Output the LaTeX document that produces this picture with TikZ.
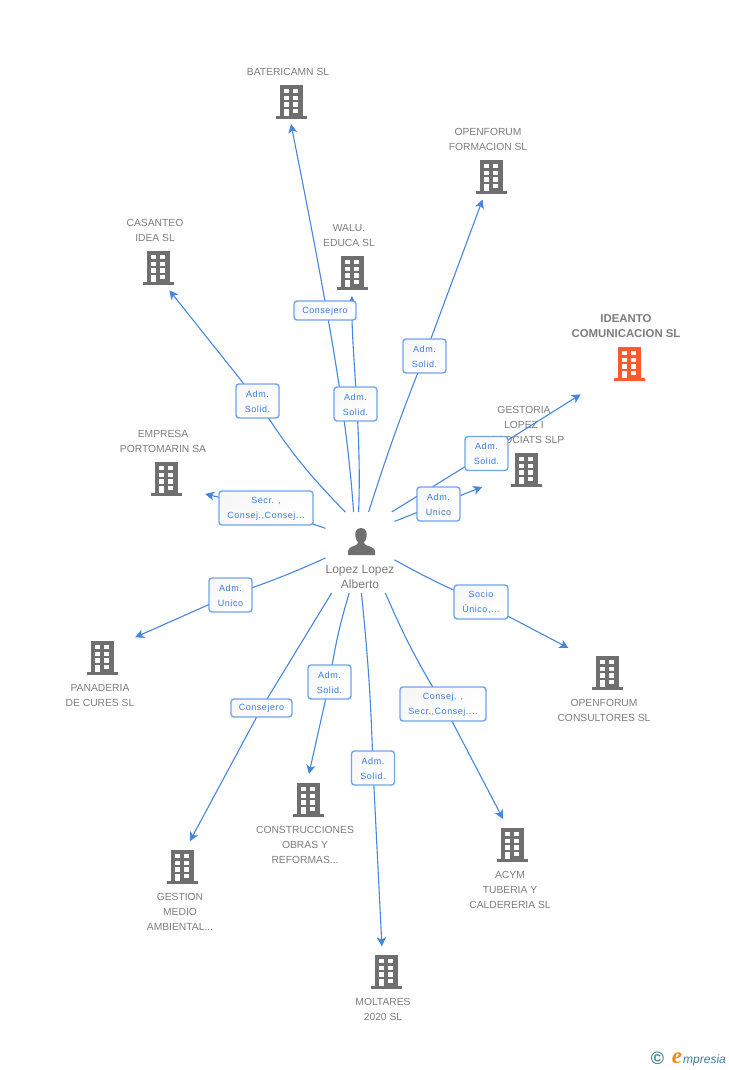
\documentclass[tikz,border=0pt]{standalone}
\usepackage{fontspec}
\setmainfont{Liberation Sans}
\newfontfamily\lblfont[LetterSpace=6]{Liberation Sans}
\newfontfamily\logoe{Liberation Serif}
\usetikzlibrary{arrows.meta}
\definecolor{edgeblue}{HTML}{4486E0}
\definecolor{boxblue}{HTML}{6FA4EC}
\definecolor{txtblue}{HTML}{3A7BDC}
\definecolor{txtgray}{HTML}{7C7C7C}
\definecolor{icongray}{HTML}{6F6F6F}
\definecolor{iconred}{HTML}{FF5A2E}
\definecolor{logoteal}{HTML}{3E7F9C}
\definecolor{logoorange}{HTML}{F08A1E}
\newcommand{\dn}[1]{\raisebox{-0.6pt}[\height][\depth]{#1}}
\tikzset{
  x=1pt,y=-1pt,
  cname/.style={text=txtgray,align=center,inner sep=0pt,font=\fontsize{10.3}{15}\selectfont},
  boldname/.style={text=txtgray,align=center,inner sep=0pt,font=\fontsize{11.4}{15}\selectfont\bfseries},
  persname/.style={text=txtgray,align=center,inner sep=0pt,font=\fontsize{12}{15}\selectfont},
  anchorpt/.style={circle,inner sep=0pt,outer sep=0pt,minimum size=#1},
  link/.style={draw=edgeblue,line width=1.1pt},
  tip/.style={link,-{Stealth[length=9pt,width=9pt,inset=2.4pt]}},
  tag/.style={draw=boxblue,line width=1.4pt,rounded corners=3pt,top color=black!3,bottom color=white,shading angle=40,
    text=txtblue,align=center,inner sep=0pt,font=\lblfont\fontsize{9}{15}\selectfont},
  bldg/.pic={
    \fill[pic actions] (-11,-17) rectangle (12,15);
    \fill[pic actions] (-15.5,14) rectangle (16,17);
    \fill[white] (-7,-13) rectangle (-2.3,-8.7);
    \fill[white] (2.3,-13) rectangle (7.3,-8.7);
    \fill[white] (-7,-6.3) rectangle (-2.3,-2);
    \fill[white] (2.3,-6.3) rectangle (7.3,-2);
    \fill[white] (-7,.3) rectangle (-2.3,4.7);
    \fill[white] (2.3,.3) rectangle (7.3,4.7);
    \fill[white] (-7,7) rectangle (-2.3,14);
    \fill[white] (2.3,7) rectangle (7.3,11.3);
  },
}
\newcommand{\building}[5]{%
  \pic[fill=#5] at (#2,#3) {bldg};
  \node[anchorpt=#4] (#1) at (#2,#3) {};
}
\begin{document}
\begin{tikzpicture}
\useasboundingbox (0,0) rectangle (728,1070);

% buildings: radius of the invisible node = where arrow tips stop
\building{bater}{291}{102}{44pt}{icongray}
\building{form}{491}{177}{48pt}{icongray}
\building{casan}{158}{268}{50pt}{icongray}
\building{walu}{352}{273}{46pt}{icongray}
\building{ideanto}{629}{364}{114pt}{iconred}
\building{gest}{526}{470}{94pt}{icongray}
\building{empresa}{166}{479}{84pt}{icongray}
\building{panad}{102}{658}{78pt}{icongray}
\building{cons}{607}{673}{92pt}{icongray}
\building{constr}{308}{800}{52pt}{icongray}
\building{acym}{512}{845}{55pt}{icongray}
\building{gestion}{182}{867}{54pt}{icongray}
\building{moltares}{386}{972}{52pt}{icongray}

% names
\node[cname] (nbater) at (288,72) {BATERICAMN SL};
\node[cname] (nform) at (488,139.5) {OPENFORUM\\FORMACION SL};
\node[cname] (ncasan) at (155,230.5) {CASANTEO\\IDEA SL};
\node[cname] (nwalu) at (349,235.5) {WALU.\\EDUCA SL};
\node[boldname] (nideanto) at (626,326.5) {IDEANTO\\COMUNICACION SL};
\node[cname] (ngest) at (524,425) {GESTORIA\\LOPEZ I\\ASSOCIATS SLP};
\node[cname] (nempresa) at (163,441.5) {EMPRESA\\PORTOMARIN SA};
\node[cname] (npanad) at (100,695.5) {PANADERIA\\DE CURES  SL};
\node[cname] (ncons) at (604,710.5) {OPENFORUM\\CONSULTORES SL};
\node[cname] (nconstr) at (305,845) {CONSTRUCCIONES\\OBRAS Y\\REFORMAS...};
\node[cname] (nacym) at (510,890) {ACYM\\TUBERIA Y\\CALDERERIA  SL};
\node[cname] (ngestion) at (180,912) {GESTION\\MEDIO\\AMBIENTAL...};
\node[cname] (nmolt) at (383,1009.5) {MOLTARES\\2020  SL};

% person
\fill[icongray] (361,528) .. controls (355.5,528) and (355,533) .. (355.3,536)
  .. controls (355.6,539) and (357,541) .. (358,542.5)
  .. controls (358,544) and (357,544.5) .. (355,545.5)
  .. controls (350,547) and (348,549) .. (348,551) -- (348,555) -- (375,555) -- (375,551)
  .. controls (375,549) and (372,547) .. (367,545.5)
  .. controls (365,544.5) and (364,544) .. (364,542.5)
  .. controls (365,541) and (366.4,539) .. (366.7,536)
  .. controls (367,533) and (366.5,528) .. (361,528) -- cycle;
\node[persname] (pname) at (360,576.5) {Lopez Lopez\\Alberto};
\node[minimum width=69pt,minimum height=81pt,inner sep=0pt,outer sep=0pt] (P) at (360,552.5) {};

% tag positions (the tags themselves are drawn on top of the connectors)
\path
 (325,310.5) coordinate (lc1)
 (424.5,356) coordinate (ls1)
 (355.5,404) coordinate (ls2)
 (257.5,401) coordinate (ls3)
 (486.5,453.5) coordinate (ls4)
 (438.5,504) coordinate (lu1)
 (266,508) coordinate (lsec)
 (230.5,595) coordinate (lu2)
 (481,602) coordinate (lsoc)
 (329.5,682) coordinate (ls5)
 (261.5,708) coordinate (lc2)
 (373,768) coordinate (ls6)
 (443,704) coordinate (lcs);

% connectors
\draw[tip] (P.99) .. controls (347,420) and (332,330) .. (bater.south);
\draw[tip] (P.92) .. controls (362,430) and (351,350) .. (walu.south);
\draw[link] (P.78) to[bend left=2] (ls1);
\draw[tip] (ls1) -- (form);
\draw[link] (P.110) to[bend left=6] (ls3);
\draw[tip] (ls3) -- (casan.-63);
\draw[link] (P.52) -- (ls4);
\draw[tip] (ls4) -- (ideanto);
\draw[link] (P.42) -- (lu1);
\draw[tip] (lu1) -- (gest);
\draw[link] (P.145) -- (lsec);
\draw[tip] (lsec) -- (empresa.-21);
\draw[link] (P.189) to[bend left=3] (lu2);
\draw[tip] (lu2) -- (panad.32.5);
\draw[link] (P.-12) to[bend right=3] (lsoc);
\draw[tip] (lsoc) -- (cons.147);
\draw[link] (P.-105) to[bend right=4] (ls5);
\draw[tip] (ls5) -- (constr.88);
\draw[link] (P.-125.6) -- (lc2);
\draw[tip] (lc2) -- (gestion.73);
\draw[link] (P.-88) to[bend left=2] (ls6);
\draw[tip] (ls6) -- (moltares.99);
\draw[link] (P.-58) to[bend right=4] (lcs);
\draw[tip] (lcs) -- (acym.109);

% tags
\node[tag,minimum width=62pt,minimum height=19pt] (tc1) at (lc1) {\dn{Consejero}};
\node[tag,minimum width=43pt,minimum height=34pt] (ts1) at (ls1) {\dn{Adm.}\\\dn{Solid.}};
\node[tag,minimum width=43pt,minimum height=34pt] (ts2) at (ls2) {\dn{Adm.}\\\dn{Solid.}};
\node[tag,minimum width=43pt,minimum height=34pt] (ts3) at (ls3) {\dn{Adm.}\\\dn{Solid.}};
\node[tag,minimum width=43pt,minimum height=34pt] (ts4) at (ls4) {\dn{Adm.}\\\dn{Solid.}};
\node[tag,minimum width=43pt,minimum height=34pt] (tu1) at (lu1) {\dn{Adm.}\\\dn{Unico}};
\node[tag,minimum width=94pt,minimum height=34pt] (tsec) at (lsec) {\dn{Secr. ,}\\\dn{Consej.,Consej...}};
\node[tag,minimum width=43pt,minimum height=34pt] (tu2) at (lu2) {\dn{Adm.}\\\dn{Unico}};
\node[tag,minimum width=54pt,minimum height=34pt] (tsoc) at (lsoc) {\dn{Socio}\\\dn{Único,...}};
\node[tag,minimum width=43pt,minimum height=34pt] (ts5) at (ls5) {\dn{Adm.}\\\dn{Solid.}};
\node[tag,minimum width=61pt,minimum height=18pt] (tc2) at (lc2) {\dn{Consejero}};
\node[tag,minimum width=43pt,minimum height=34pt] (ts6) at (ls6) {\dn{Adm.}\\\dn{Solid.}};
\node[tag,minimum width=86pt,minimum height=34pt] (tcs) at (lcs) {\dn{Consej. ,}\\\dn{Secr.,Consej....}};

% logo
\node[text=logoteal,inner sep=0pt,font=\bfseries\fontsize{18}{18}\selectfont] (logoc) at (657.5,1058.5) {©};
\node[text=logoorange,inner sep=0pt,font=\logoe\itshape\bfseries\fontsize{23}{23}\selectfont] (logoa) at (677,1058) {e};
\node[text=logoteal,inner sep=0pt,anchor=west,font=\itshape\fontsize{12}{12}\selectfont] (logob) at (683,1060) {mpresia};
\end{tikzpicture}
\end{document}
